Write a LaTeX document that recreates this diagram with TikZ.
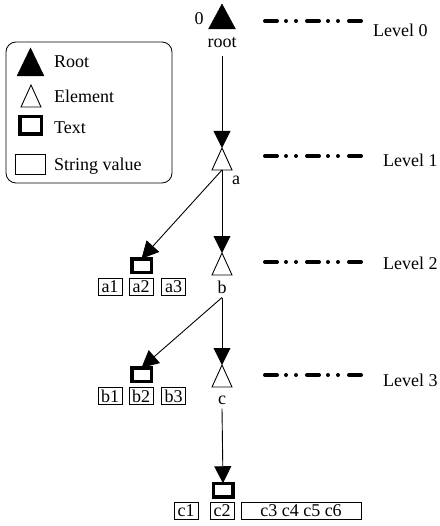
\documentclass[tikz,border=0pt]{standalone}
\usepackage{fontspec}
\setmainfont{Liberation Serif}
\usetikzlibrary{shapes.geometric,arrows.meta}

\tikzset{
  rootmark/.style={isosceles triangle, isosceles triangle stretches, shape border rotate=90, draw, fill=black, inner sep=0pt, outer sep=0pt, minimum width=27pt, minimum height=25pt},
  elemmark/.style={isosceles triangle, isosceles triangle stretches, shape border rotate=90, draw, fill=white, line width=0.9pt, inner sep=0pt, outer sep=0pt, minimum width=20pt, minimum height=22pt},
  textmark/.style={draw, line width=3.5pt, inner sep=0pt, outer sep=0pt, minimum width=19.5pt, minimum height=13.5pt},
  strval/.style={draw, line width=0.8pt, inner sep=0pt, minimum width=24pt, minimum height=17pt},
  arr/.style={-{Triangle[length=17pt,width=17pt]}, line width=0.9pt},
  lvl/.style={line width=4pt, line cap=round, dash pattern=on 12pt off 9pt on 0pt off 10pt on 0pt off 11pt},
  lbl/.style={inner sep=4pt}
}

\begin{document}
\begin{tikzpicture}[x=1pt, y=-1pt, font=\fontsize{18}{20}\selectfont]
			\useasboundingbox (0,0) rectangle (439,526);
			\begin{scope}
				% legend
				\draw[line width=0.8pt, rounded corners=10pt] (6,42) rectangle (172,183);
				\node[rootmark, anchor=apex, minimum height=28pt] (legroot) at (30.5,48) {};
				\node[elemmark, anchor=apex] (legelem) at (31,85) {};
				\node[textmark, minimum width=21.5pt, minimum height=17.5pt] (legtext) at (30.5,125.5) {};
				\node[strval, minimum width=30pt, minimum height=20pt] (legstr) at (30.5,164.5) {};
				\node[anchor=base west, inner sep=0pt] (legroott) at (54,68) {Root};
				\node[anchor=base west, inner sep=0pt] (legelemt) at (54,103) {Element};
				\node[anchor=base west, inner sep=0pt] (legtextt) at (54,134) {Text};
				\node[anchor=base west, inner sep=0pt] (legstrt) at (54,171) {String value};

				% tree
				\node[rootmark, anchor=apex] (root) at (222,4) {};
				\node (zero) at (199,19) {0};
				\node[lbl] (rl) at (222,43) {root};
				\node[elemmark, anchor=apex] (a) at (222,148) {};
				\node (al) at (236,180) {a};
				\node[elemmark, anchor=apex] (b) at (222,253) {};
				\node[lbl] (bl) at (222,287) {b};
				\node[elemmark, anchor=apex] (c) at (222,365) {};
				\node[lbl] (cl) at (222,400) {c};

				\node[textmark] (ta) at (141.5,265.5) {};
				\node[textmark] (tb) at (141.5,374.5) {};
				\node[textmark] (tc) at (223,490) {};

				\draw[arr, shorten <=4pt] (rl.south) -- (a.apex); % root to a
				\draw[arr] (a.lower side) -- (b.apex); % a to b
				\draw[arr] (a.lower side) -- (ta.north); % a to its text
				\draw[arr] (bl.south) -- (c.apex); % b to c
				\draw[arr] (bl.south) -- (tb.north); % b to its text
				\draw[arr] (cl.south) -- (tc.north); % c to its text

				% string values
				\node[strval] (a1) at (110,286.5) {a1};
				\node[strval] (a2) at (141,286.5) {a2};
				\node[strval] (a3) at (173.5,286.5) {a3};
				\node[strval] (b1) at (110,396) {b1};
				\node[strval] (b2) at (141,396) {b2};
				\node[strval] (b3) at (173.5,396) {b3};
				\node[strval] (c1) at (186,510.5) {c1};
				\node[strval] (c2) at (222,510.5) {c2};
				\node[strval, minimum width=120pt] (c3) at (301,510.5) {c3 c4 c5 c6};

				% levels
				\draw[lvl] (265,21) -- (361,21);
				\draw[lvl] (265,156) -- (361,156);
				\draw[lvl] (265,262) -- (361,262);
				\draw[lvl] (265,375) -- (361,375);
				\node[anchor=base west, inner sep=0pt] (lv0) at (373,36.5) {Level 0};
				\node[anchor=base west, inner sep=0pt] (lv1) at (383,166.5) {Level 1};
				\node[anchor=base west, inner sep=0pt] (lv2) at (383,269.5) {Level 2};
				\node[anchor=base west, inner sep=0pt] (lv3) at (383,386) {Level 3};
			\end{scope}
		\end{tikzpicture}
\end{document}
